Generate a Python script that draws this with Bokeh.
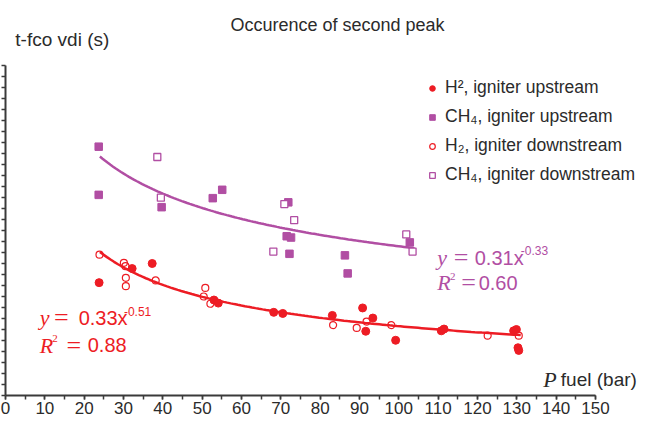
from bokeh.plotting import figure
from bokeh.models import Label, Legend, LegendItem, FixedTicker, Range1d
from bokeh.embed import file_html
from bokeh.resources import INLINE
import numpy as np

# ---------------- data ----------------
h2_up_x = [23.8, 32.2, 37.3, 53.0, 54.1, 68.2, 70.5, 83.1, 90.8, 93.4, 91.6, 99.2,
           110.8, 111.5, 129.2, 129.9, 130.3, 130.5]
h2_up_y = [0.0513, 0.0577, 0.0600, 0.0434, 0.0420, 0.0378, 0.0373, 0.0364, 0.0398,
           0.0352, 0.0292, 0.0251, 0.0294, 0.0302, 0.0294, 0.0300, 0.0217, 0.0205]

ch4_up_x = [23.7, 23.7, 39.7, 52.7, 55.1, 71.9, 71.5, 72.6, 72.2, 86.3, 87.0, 102.8]
ch4_up_y = [0.1131, 0.0912, 0.0856, 0.0897, 0.0935, 0.0878, 0.0724, 0.0718, 0.0644,
            0.0637, 0.0555, 0.0696]

h2_down_x = [23.9, 30.1, 30.5, 30.6, 30.6, 38.2, 50.8, 50.4, 52.1, 83.3, 89.3, 91.8,
             98.1, 122.6, 130.5]
h2_down_y = [0.0640, 0.0603, 0.0588, 0.0535, 0.0497, 0.0523, 0.0489, 0.0450, 0.0417,
             0.0320, 0.0307, 0.0336, 0.0320, 0.0272, 0.0272]

ch4_down_x = [38.6, 39.5, 70.9, 73.4, 68.1, 101.9, 103.5]
ch4_down_y = [0.1084, 0.0899, 0.0870, 0.0797, 0.0654, 0.0732, 0.0654]

# power-law fits shown on the chart: y = a * x^b
h2_fit_a, h2_fit_b = 0.33, -0.51
h2_fit_range = (24, 131)
h2_r2 = "0.88"
ch4_fit_a, ch4_fit_b = 0.31, -0.33
ch4_fit_range = (24, 104)
ch4_r2 = "0.60"

x_ticks = list(range(0, 151, 10))
x_minor_ticks = list(range(0, 151, 5))
y_ticks = [round(i * 0.005, 3) for i in range(31)]

legend_labels = ["H², igniter upstream", "CH₄, igniter upstream",
                 "H₂, igniter downstream", "CH₄, igniter downstream"]

# ---------------- styles ----------------
RED = "#ed1c24"
PURPLE = "#b14ea3"
GREY = "#2b2b2b"
SANS = "Liberation Sans"
SERIF = "Liberation Serif"

W, H = 638, 421
BORDER_L, BORDER_B = 5, 26
frame_w = W - BORDER_L
frame_h = H - BORDER_B
px_per_x = 3.933                     # x scale (pixels per bar)
x_end = frame_w / px_per_x
top_axis_px = 65                     # where 0.15 sits (from the canvas top)
y_end = 0.15 * frame_h / (frame_h - top_axis_px)

p = figure(width=W, height=H, x_range=Range1d(0, x_end), y_range=Range1d(0, y_end),
           output_backend="svg", toolbar_location=None,
           min_border_left=BORDER_L, min_border_right=0, min_border_top=0,
           min_border_bottom=BORDER_B)
p.grid.visible = False
p.outline_line_color = None

# axes
for ax in (p.xaxis[0], p.yaxis[0]):
    ax.axis_line_color = "#3a3a3a"
    ax.axis_line_width = 2
    ax.major_tick_line_color = "#3a3a3a"
    ax.minor_tick_line_color = "#3a3a3a"
    ax.major_tick_line_width = 1.5
    ax.minor_tick_line_width = 1.5
    ax.major_tick_out = 4
    ax.major_tick_in = 0
    ax.minor_tick_out = 4
    ax.minor_tick_in = 0

p.xaxis.bounds = (0, 150)
p.xaxis.ticker = FixedTicker(ticks=x_ticks, minor_ticks=x_minor_ticks)
p.xaxis.major_label_text_font = SANS
p.xaxis.major_label_text_font_size = "17px"
p.xaxis.major_label_text_color = GREY
p.xaxis.major_label_standoff = 2

p.yaxis.bounds = (0, 0.15)
p.yaxis.ticker = FixedTicker(ticks=y_ticks, minor_ticks=[])
p.yaxis.major_label_overrides = {t: "" for t in y_ticks}
p.yaxis.major_label_text_font_size = "0px"
p.yaxis.major_label_standoff = 0

# fit curves
xs_h2 = np.linspace(h2_fit_range[0], h2_fit_range[1], 120)
p.line(xs_h2, h2_fit_a * xs_h2 ** h2_fit_b, line_color=RED, line_width=2.5)
xs_ch4 = np.linspace(ch4_fit_range[0], ch4_fit_range[1], 120)
p.line(xs_ch4, ch4_fit_a * xs_ch4 ** ch4_fit_b, line_color=PURPLE, line_width=2.5)

# points
r1 = p.scatter(h2_up_x, h2_up_y, marker="circle", size=8, fill_color=RED, line_color=RED)
r2 = p.scatter(ch4_up_x, ch4_up_y, marker="square", size=7.5, fill_color=PURPLE, line_color=PURPLE)
r3 = p.scatter(h2_down_x, h2_down_y, marker="circle", size=7, fill_color="white",
               fill_alpha=0.0, line_color=RED, line_width=1.2)
r4 = p.scatter(ch4_down_x, ch4_down_y, marker="square", size=7, fill_color="white",
               line_color=PURPLE, line_width=1.3)

legend = Legend(items=[LegendItem(label=legend_labels[0], renderers=[r1]),
                       LegendItem(label=legend_labels[1], renderers=[r2]),
                       LegendItem(label=legend_labels[2], renderers=[r3]),
                       LegendItem(label=legend_labels[3], renderers=[r4])],
                location=(420, 210), background_fill_alpha=0, border_line_color=None,
                padding=0, margin=0, spacing=8, glyph_width=14, glyph_height=20,
                label_height=20, label_standoff=6, label_text_font=SANS,
                label_text_font_size="17.5px", label_text_color=GREY)
p.add_layout(legend, "center")


def lab(x, y, text, font, size, color, style="normal"):
    p.add_layout(Label(x=x, y=y, text=text, text_font=font, text_font_size=size,
                       text_color=color, text_font_style=style,
                       text_baseline="alphabetic", text_align="left"))


# title and axis labels (positions in data units)
lab(57.2, 0.1682, "Occurence of second peak", SANS, "18px", GREY)
lab(2.5, 0.1617, "t-fco vdi (s)", SANS, "19px", GREY)
lab(136.7, 0.0071, "P", SERIF, "22px", GREY, "italic")
lab(141.2, 0.0071, "fuel (bar)", SANS, "19px", GREY)

# red equation
lab(8.7, 0.0353, "y", SERIF, "22px", RED, "italic")
lab(12.3, 0.0353, "=", SERIF, "26px", RED)
lab(18.6, 0.0353, "0.33x", SANS, "20px", RED)
lab(30.1, 0.0384, "-0.51", SANS, "12px", RED)
lab(8.7, 0.0229, "R", SERIF, "22px", RED, "italic")
lab(11.9, 0.0258, "2", SERIF, "11px", RED)
lab(15.5, 0.0229, "=", SERIF, "26px", RED)
lab(20.9, 0.0229, h2_r2, SANS, "20px", RED)

# purple equation
lab(109.8, 0.0626, "y", SERIF, "22px", PURPLE, "italic")
lab(114.0, 0.0626, "=", SERIF, "26px", PURPLE)
lab(119.3, 0.0626, "0.31x", SANS, "20px", PURPLE)
lab(131.0, 0.0657, "-0.33", SANS, "12px", PURPLE)
lab(109.8, 0.0512, "R", SERIF, "22px", PURPLE, "italic")
lab(113.0, 0.0541, "2", SERIF, "11px", PURPLE)
lab(115.9, 0.0512, "=", SERIF, "26px", PURPLE)
lab(120.3, 0.0512, ch4_r2, SANS, "20px", PURPLE)

open("out.html", "w").write(file_html(p, INLINE))
